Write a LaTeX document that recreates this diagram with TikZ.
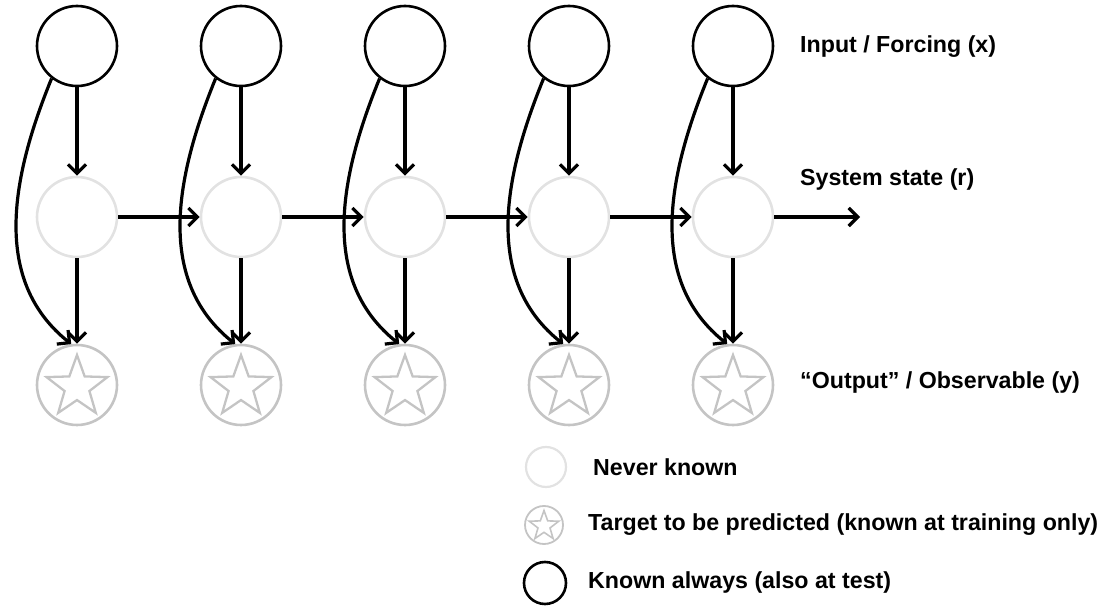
\documentclass[tikz,border=0pt]{standalone}
\usepackage{fontspec}
\setmainfont{Liberation Sans}
\usetikzlibrary{arrows.meta,shapes.geometric}
\definecolor{nevergray}{HTML}{E2E2E2}
\definecolor{targetgray}{HTML}{C4C4C4}
\begin{document}
\begin{tikzpicture}[x=1pt,y=1pt,
  known/.style={circle,draw=black,line width=2.6pt,minimum size=80pt,inner sep=0pt},
  never/.style={circle,draw=nevergray,line width=2.6pt,minimum size=80pt,inner sep=0pt},
  target/.style={circle,draw=targetgray,line width=2.6pt,minimum size=80pt,inner sep=0pt},
  starshape/.style={star,star points=5,star point ratio=2.45,draw=targetgray,line width=2.3pt,minimum size=64pt,inner sep=0pt},
  lknown/.style={circle,draw=black,line width=2.6pt,minimum size=42pt,inner sep=0pt},
  lnever/.style={circle,draw=nevergray,line width=2.2pt,minimum size=40pt,inner sep=0pt},
  ltarget/.style={circle,draw=targetgray,line width=1.8pt,minimum size=38pt,inner sep=0pt},
  lstar/.style={star,star points=5,star point ratio=2.45,draw=targetgray,line width=1.6pt,minimum size=31pt,inner sep=0pt},
  arr/.style={line width=3.2pt,-{Straight Barb[length=9pt,width=18pt,line width=3.2pt]}},
  lbl/.style={anchor=west,font=\bfseries\fontsize{23.2}{27}\selectfont,inner sep=0pt},
  leg/.style={anchor=west,font=\fontsize{23.2}{27}\selectfont\bfseries,inner sep=0pt}]
\useasboundingbox (0,0) rectangle (1104,-609);
\foreach \i/\x in {1/77,2/241,3/405,4/569,5/733}{
  \node[known] (x\i) at (\x,-46) {};
  \node[never] (r\i) at (\x,-217) {};
  \node[target] (y\i) at (\x,-385) {};
  \node[starshape] (s\i) at (\x,-387) {};
  \draw[arr] (x\i) -- (r\i);
  \draw[arr] (r\i) -- (y\i);
  \draw[arr] (x\i.232) .. controls +(-45,-110) and +(-75,60) .. (y\i.98);
}
\foreach \i/\j in {1/2,2/3,3/4,4/5}{
  \draw[arr] (r\i.east) -- (r\j.west);
}
\coordinate (rend) at (860,-217);
\draw[arr] (r5.east) -- (rend);
\node[lbl] (tx) at (800,-47) {Input / Forcing (x)};
\node[lbl] (tr) at (800,-180) {System state (r)};
\node[lbl] (ty) at (800,-383) {“Output” / Observable (y)};
\node[lnever] (ln) at (546,-467) {};
\node[ltarget] (lt) at (544,-525) {};
\node[lstar] (ls) at (544,-526) {};
\node[lknown] (lk) at (545,-583) {};
\node[leg] (tn) at (593,-467) {Never known};
\node[leg] (tt) at (588,-525) {Target to be predicted (known at training only)};
\node[leg] (tk) at (588,-583) {Known always (also at test)};
\end{tikzpicture}
\end{document}
